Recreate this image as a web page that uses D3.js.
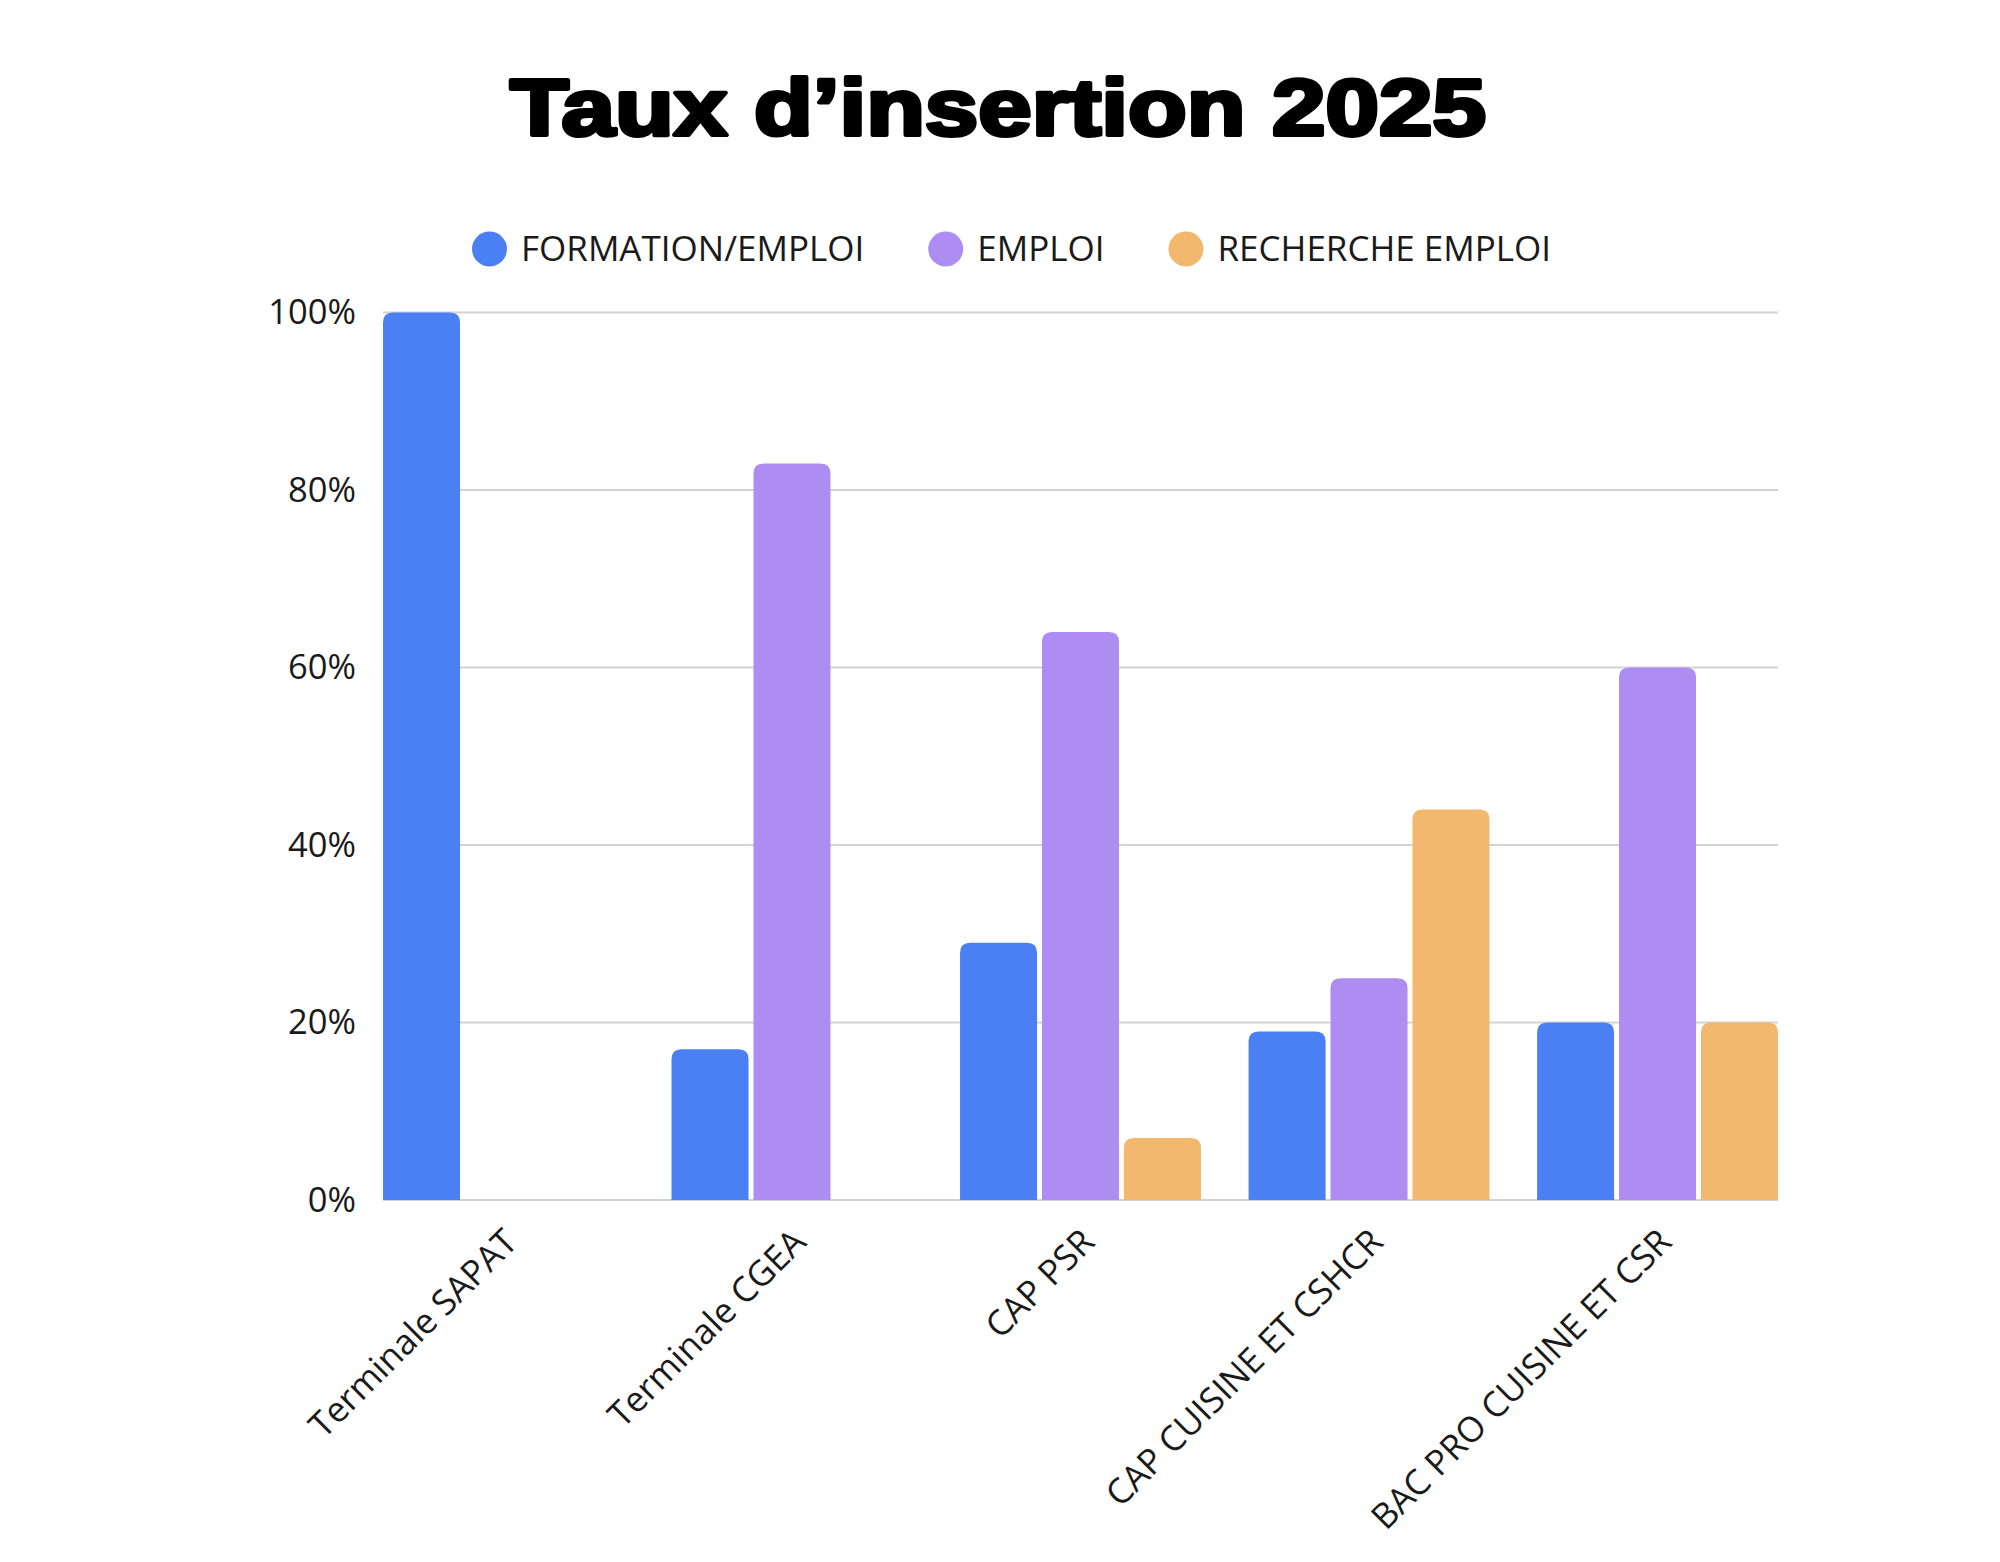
<!DOCTYPE html>
<html>
<head>
<meta charset="utf-8">
<script src="https://cdn.jsdelivr.net/npm/d3@7"></script>
<style>
  html, body { margin: 0; padding: 0; background: #fff; }
  .chart text { font-family: 'Open Sans', sans-serif; fill: #1a1a1a; }
</style>
</head>
<body>
<div id="chart"></div>
<script>
const categories = [
  'Terminale SAPAT',
  'Terminale CGEA',
  'CAP PSR',
  'CAP CUISINE ET CSHCR',
  'BAC PRO CUISINE ET CSR',
];
const seriesNames = ['FORMATION/EMPLOI', 'EMPLOI', 'RECHERCHE EMPLOI'];
const formationEmploi = [100, 17, 29, 19, 20];
const emploi = [0, 83, 64, 25, 60];
const rechercheEmploi = [0, 0, 7, 44, 20];
const yTicks = [0, 20, 40, 60, 80, 100];
const colors = ['#4b80f5', '#ae8df3', '#f1b86e'];

const width = 2000;
const height = 1562;
const margins = { top: 312.5, right: 222, bottom: 362, left: 383 };

const values = [formationEmploi, emploi, rechercheEmploi];
const rows = categories.map((c, i) => ({
  category: c,
  bars: seriesNames.map((s, j) => ({ series: s, value: values[j][i], color: colors[j] })),
}));

const svg = d3.select('#chart')
  .append('svg')
  .attr('width', width)
  .attr('height', height)
  .attr('class', 'chart');

const x0 = d3.scaleBand()
  .domain(categories)
  .range([margins.left, width - margins.right])
  .paddingInner(0.165)
  .paddingOuter(0);

const x1 = d3.scaleBand()
  .domain(seriesNames)
  .range([0, x0.bandwidth()])
  .paddingInner(0.06);

const y = d3.scaleLinear()
  .domain([0, 100])
  .range([height - margins.bottom, margins.top]);

// title
svg.append('text')
  .attr('x', 998)
  .attr('y', 135)
  .attr('text-anchor', 'middle')
  .attr('textLength', 976)
  .attr('lengthAdjust', 'spacingAndGlyphs')
  .style('font-family', "'Liberation Sans', Arial, sans-serif")
  .style('font-weight', 'bold')
  .style('font-size', '80px')
  .style('fill', '#000')
  .style('stroke', '#000')
  .style('stroke-width', 4)
  .style('stroke-linejoin', 'round')
  .text('Taux d’insertion 2025');

// legend
const legend = svg.append('g').attr('class', 'legend');
let lx = 472;
seriesNames.forEach((name, i) => {
  const item = legend.append('g').attr('transform', `translate(${lx}, 249)`);
  item.append('circle')
    .attr('cx', 17.5)
    .attr('cy', 0)
    .attr('r', 17.5)
    .attr('fill', colors[i]);
  const label = item.append('text')
    .attr('x', 49)
    .attr('dy', '0.35em')
    .style('font-size', '35px')
    .text(name);
  lx += 49 + label.node().getComputedTextLength() + 64;
});

// grid
svg.append('g')
  .attr('class', 'grid')
  .selectAll('line')
  .data(yTicks)
  .join('line')
  .attr('x1', margins.left)
  .attr('x2', width - margins.right)
  .attr('y1', d => y(d))
  .attr('y2', d => y(d))
  .attr('stroke', '#d3d3d3')
  .attr('stroke-width', 2);

// y axis
const yAxis = d3.axisLeft(y)
  .tickValues(yTicks)
  .tickFormat(d => `${d}%`)
  .tickSize(0)
  .tickPadding(27);

svg.append('g')
  .attr('class', 'axis axis-left')
  .attr('transform', `translate(${margins.left}, 0)`)
  .call(yAxis)
  .call(g => g.select('.domain').remove())
  .call(g => g.selectAll('text')
    .style('font-family', "'Open Sans', sans-serif")
    .style('font-size', '34.5px')
    .attr('fill', '#1a1a1a'));

// bars with rounded tops
const radius = 10;
function barPath(bx, by, bw, bh) {
  if (bh <= 0) return '';
  const r = Math.min(radius, bw / 2, bh);
  return `M${bx},${by + bh}V${by + r}Q${bx},${by} ${bx + r},${by}`
    + `H${bx + bw - r}Q${bx + bw},${by} ${bx + bw},${by + r}V${by + bh}Z`;
}

svg.append('g')
  .attr('class', 'bars')
  .selectAll('g')
  .data(rows)
  .join('g')
  .attr('transform', d => `translate(${x0(d.category)}, 0)`)
  .selectAll('path')
  .data(d => d.bars)
  .join('path')
  .attr('fill', d => d.color)
  .attr('d', d => barPath(x1(d.series), y(d.value), x1.bandwidth(), y(0) - y(d.value)));

// x labels
const xAxis = d3.axisBottom(x0).tickSize(0).tickPadding(0);

svg.append('g')
  .attr('class', 'axis axis-bottom')
  .attr('transform', `translate(0, ${y(0)})`)
  .call(xAxis)
  .call(g => g.select('.domain').remove())
  .call(g => g.selectAll('text')
    .style('font-family', "'Open Sans', sans-serif")
    .style('font-size', '35px')
    .attr('fill', '#1a1a1a')
    .attr('text-anchor', 'end')
    .attr('dy', 0)
    .attr('y', 0)
    .attr('transform', 'translate(16, 44) rotate(-45)'));
</script>
</body>
</html>
